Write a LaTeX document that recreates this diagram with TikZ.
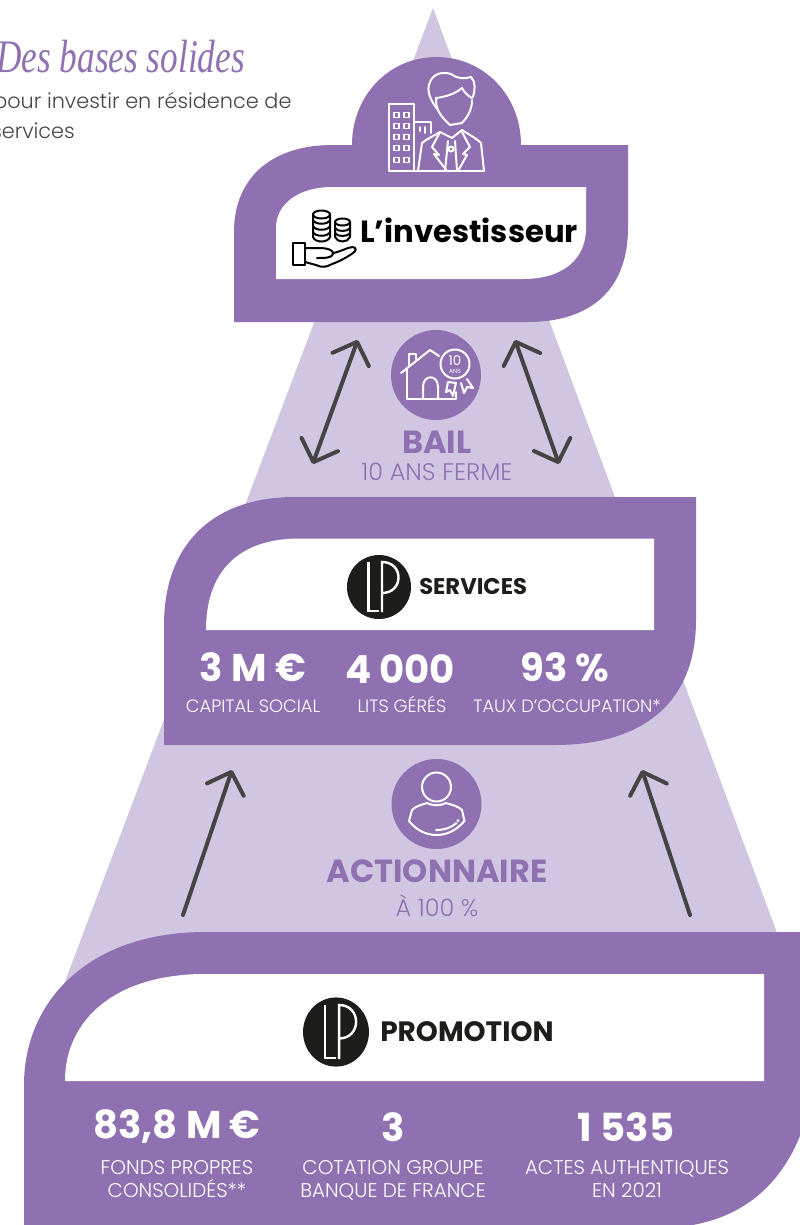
\documentclass[tikz,border=0pt]{standalone}
\usepackage{fontspec}
\setmainfont{Poppins}
\newfontfamily\lightfont{Poppins Light}
\newfontfamily\titlefont{Liberation Serif}
\usetikzlibrary{arrows.meta}
\definecolor{lpurple}{HTML}{8F71B2}
\definecolor{lpale}{HTML}{D0C6E1}
\definecolor{lgrey}{HTML}{444444}
\definecolor{lblack}{HTML}{1D1D1B}
\tikzset{
  panel/.style={fill=lpurple,draw=none},
  whitepanel/.style={fill=white,draw=none},
  iconcircle/.style={circle,fill=lpurple,draw=none,minimum size=67.5pt,inner sep=0pt},
  flowarrow/.style={draw=lgrey,line width=3pt,line cap=round,line join=round},
  barbs/.style={-{Straight Barb[length=14pt,width=29pt,round]}},
  dblbarbs/.style={{Straight Barb[length=14pt,width=29pt,round]}-{Straight Barb[length=14pt,width=29pt,round]}},
  iconline/.style={draw=white,line width=1.5pt,line join=round,line cap=round},
  coinline/.style={draw=black,line width=1.5pt,line join=round,line cap=round},
  bigvalue/.style={inner sep=0.75pt,text=white,font=\bfseries\fontsize{29}{30}\selectfont},
  sublabel/.style={anchor=base,inner sep=0.75pt,text=white,font=\lightfont\fontsize{13.4}{14}\selectfont},
  promolabel/.style={anchor=base,inner sep=0.75pt,text=white,font=\lightfont\fontsize{14.9}{16}\selectfont},
  linkhead/.style={inner sep=0.75pt,text=lpurple,font=\bfseries\fontsize{24}{26}\selectfont},
  linksub/.style={anchor=base,inner sep=0.75pt,text=lpurple,font=\lightfont\fontsize{18}{20}\selectfont},
  lplogo/.pic={
    \fill [lblack] (0,0) circle (32);
    \draw [white,line width=1.8pt] (-10.5,-25) -- (-10.5,24) -- (0,24);
    \draw [white,line width=1.8pt] (3,25) -- (3,-25) .. controls (25,-25) and (25,6) .. (3,6);
  },
}
\begin{document}
\begin{tikzpicture}[x=0.75pt,y=0.75pt,yscale=-1,xscale=1]
\clip (0,0) rectangle (800,1225);

%Shape: Background triangle
\fill [lpale] (433,8) -- (802,1000) -- (58,1000) -- cycle;

%Shape: Investor panel
\path [panel] (234,322) -- (234,232) .. controls (234,175) and (275,145) .. (332,145) -- (352,145)
  .. controls (352,94.8) and (389.8,57) .. (436.5,57) .. controls (483.2,57) and (521,94.8) .. (521,145)
  -- (628,145) -- (628,228) .. controls (628,290) and (590,322) .. (528,322) -- cycle;
\path [whitepanel] (276,279) -- (276,228) .. controls (276,203) and (300,187) .. (332,187) -- (586,187)
  -- (586,228) .. controls (586,260) and (562,279) .. (523,279) -- cycle;

%Shape: Services panel
\path [panel] (164,745) -- (164,625) .. controls (164,545) and (212,497) .. (295,497) -- (696,497)
  -- (696,620) .. controls (696,705) and (640,745) .. (555,745) -- cycle;
\path [whitepanel] (206,630) .. controls (206,575) and (235,538.5) .. (300,538.5) -- (654,538.5)
  -- (654,630) -- cycle;

%Shape: Promotion panel
\path [panel] (24,1235) -- (24,1085) .. controls (24,1000) and (90,932) .. (205,932) -- (810,932)
  -- (810,1105) .. controls (790,1185) and (740,1225) .. (665,1228) -- (600,1235) -- cycle;
\path [whitepanel] (65,1081) .. controls (65,1020) and (115,974) .. (205,974) -- (764,974)
  -- (764,1081) -- cycle;

%Arrows between the panels
\coordinate (bailLup) at (357.7,340);
\coordinate (bailLdown) at (312.7,464);
\coordinate (bailRup) at (515,340);
\coordinate (bailRdown) at (559,464);
\coordinate (actLtail) at (183,915);
\coordinate (actLtip) at (232,770);
\coordinate (actRtail) at (690,915);
\coordinate (actRtip) at (642,770);
\draw [flowarrow,dblbarbs] (bailLdown) -- (bailLup);
\draw [flowarrow,dblbarbs] (bailRdown) -- (bailRup);
\draw [flowarrow,barbs] (actLtail) -- (actLtip);
\draw [flowarrow,barbs] (actRtail) -- (actRtip);

%Shape: Circles
\node (bailcircle) [iconcircle] at (436,375) {};
\node (actcircle) [iconcircle] at (436.5,804) {};

%Icon: building
\draw [iconline] (414,171) -- (414,104) -- (389,104) -- (389,171) -- (484,171);
\draw [iconline] (414,122) -- (431,122) -- (431,133);
\draw [iconline] (420,127) -- (420,131);
\draw [iconline] (425,127) -- (425,133);
\foreach \wy in {115,126,137,148,160}{
  \draw [iconline,line width=1.1pt] (394,\wy-2.5) rectangle (399,\wy+2.5);
  \draw [iconline,line width=1.1pt] (404,\wy-2.5) rectangle (409,\wy+2.5);
}
%Icon: investor
\draw [iconline] (436,98) .. controls (436,108) and (438,114) .. (450,125) -- (462,123) .. controls (470,114) and (472,108) .. (472,100);
\draw [iconline] (438,110) .. controls (430,100) and (426,90) .. (430,82) .. controls (434,72) and (445,72) .. (451,74) .. controls (458,79) and (464,79) .. (471,77) .. controls (476,82) and (475,90) .. (473,97);
\draw [iconline] (436,98) .. controls (445,97) and (455,94) .. (462,88) .. controls (464,92) and (468,96) .. (472,98);
\draw [iconline] (418,171) -- (422,143) .. controls (428,138) and (434,136) .. (440,132) -- (452,138) -- (462,130) .. controls (468,134) and (476,138) .. (481,143) -- (484,171);
\draw [iconline] (440,132) -- (432,147) -- (439,155) -- (434,154) -- (447,171);
\draw [iconline] (462,132) -- (470,147) -- (463,154) -- (467,155) -- (458,171);
\draw [iconline] (448,141) -- (445,171);
\draw [iconline] (455,141) -- (457,171);
\draw [iconline] (451,149) circle (2.5);

%Icon: coins and hand
\draw [coinline] (321.5,214.5) ellipse (8.5 and 4);
\draw [coinline] (313,214.5) -- (313,237) .. controls (315,243) and (328,243) .. (330,237) -- (330,214.5);
\foreach \cy in {220,226,232}{
  \draw [coinline] (313,\cy) .. controls (315,\cy+5) and (328,\cy+5) .. (330,\cy);
}
\draw [coinline] (342.5,222) ellipse (7.5 and 3.5);
\draw [coinline] (335,222) -- (335,237) .. controls (337,243) and (348,243) .. (350,237) -- (350,222);
\foreach \cy in {228,233}{
  \draw [coinline] (335,\cy) .. controls (337,\cy+4) and (348,\cy+4) .. (350,\cy);
}
\draw [coinline] (293,243) rectangle (305,265);
\draw [coinline] (305,248) -- (320,248) .. controls (327,248) and (334,250) .. (333,254) .. controls (332,258) and (325,258) .. (317,258);
\draw [coinline] (333,253) .. controls (340,252) and (348,247) .. (353,247) .. controls (357,248) and (356,251) .. (353,253) .. controls (346,258) and (338,262) .. (332,264) .. controls (327,267) and (322,268) .. (316,265) -- (305,262);

%Icon: house
\draw [iconline] (401,373) -- (430,350) -- (439,356);
\draw [iconline] (409,365) -- (409,354) -- (416,354) -- (416,359);
\draw [iconline] (407,368) -- (407,399) -- (456,399) -- (456,392);
\draw [iconline] (423,399) -- (423,387) .. controls (423,374) and (438,374) .. (438,387) -- (438,399);
\draw [iconline] (455,364) circle (14.5);
\draw [iconline] (448,382) -- (456,383) -- (453,396) -- (450,390) -- (446,392) -- cycle;
\draw [iconline] (467,379) -- (473,388) -- (467,387) -- (464,393) -- (461,383);
\draw (455,361) node (badgeten) [inner sep=0pt,text=white,font=\fontsize{10}{10}\selectfont] {10};
\draw (455,371.5) node (badgeans) [inner sep=0pt,text=white,font=\fontsize{4.5}{5}\selectfont] {ANS};

%Icon: shareholder
\draw [iconline] (436.5,787) circle (14.5);
\draw [iconline] (427,803) .. controls (432,806) and (441,806) .. (446,803) .. controls (452,805) and (458,806) .. (462,810) -- (464.5,821)
  .. controls (456,831) and (446,835) .. (436.5,835) .. controls (427,835) and (417,831) .. (409,821) -- (412,810) .. controls (416,806) and (421,805) .. (427,803) -- cycle;
\draw [iconline] (436,830) .. controls (444,830) and (451,828) .. (456.5,823);
\fill [white] (458,820.5) circle (1.5);

%Logos
\path (379,587) pic [transform shape] {lplogo};
\path (336,1032) pic [transform shape,xscale=1.03,yscale=1.08] {lplogo};

% Text Node
\draw (-4,72) node (titlemain) [anchor=base west,inner sep=0pt,xscale=0.755,text=lpurple,font=\titlefont\itshape\fontsize{35}{36}\selectfont] {Des bases solides};
\draw (-7,103) node (introa) [anchor=west,inner sep=0pt,text=lgrey,font=\lightfont\fontsize{15.6}{18}\selectfont] {pour investir en résidence de};
\draw (-9,131) node (introb) [anchor=west,inner sep=0pt,text=lgrey,font=\lightfont\fontsize{15.6}{18}\selectfont] {services};
% Text Node
\draw (360,230) node (invname) [anchor=west,inner sep=0pt,text=black,font=\bfseries\fontsize{23}{26}\selectfont] {L’investisseur};
\draw (419,587) node (servname) [anchor=west,inner sep=0pt,text=lblack,font=\bfseries\fontsize{17}{18}\selectfont] {SERVICES};
\draw (380,1032) node (promname) [anchor=west,inner sep=0pt,text=lblack,font=\bfseries\fontsize{21}{22}\selectfont] {PROMOTION};
% Text Node
\draw (437,442) node (bailhead) [linkhead] {BAIL};
\draw (437,480) node (bailsub) [linksub] {10 ANS FERME};
\draw (437,871) node (acthead) [linkhead] {ACTIONNAIRE};
\draw (437,916) node (actsub) [linksub] {À 100 \%};
% Text Node
\draw (253,667) node (capval) [bigvalue] {3 M €};
\draw (400,669) node (litsval) [bigvalue] {4 000};
\draw (565,667) node (tauxval) [bigvalue] {93 \%};
\draw (253,712.5) node (caplab) [sublabel] {CAPITAL SOCIAL};
\draw (402,712.5) node (litslab) [sublabel] {LITS GÉRÉS};
\draw (567,712.5) node (tauxlab) [sublabel] {TAUX D’OCCUPATION*};
% Text Node
\draw (177,1127) node (fondsval) [bigvalue] {83,8 M €};
\draw (393,1127) node (cotval) [bigvalue] {3};
\draw (626,1127) node (actesval) [bigvalue] {1 535};
\draw (177,1174) node (fondslaba) [promolabel] {FONDS PROPRES};
\draw (177,1197) node (fondslabb) [promolabel] {CONSOLIDÉS**};
\draw (393,1174) node (cotlaba) [promolabel] {COTATION GROUPE};
\draw (393,1197) node (cotlabb) [promolabel] {BANQUE DE FRANCE};
\draw (627,1174) node (acteslaba) [promolabel] {ACTES AUTHENTIQUES};
\draw (627,1197) node (acteslabb) [promolabel] {EN 2021};

\end{tikzpicture}
\end{document}
